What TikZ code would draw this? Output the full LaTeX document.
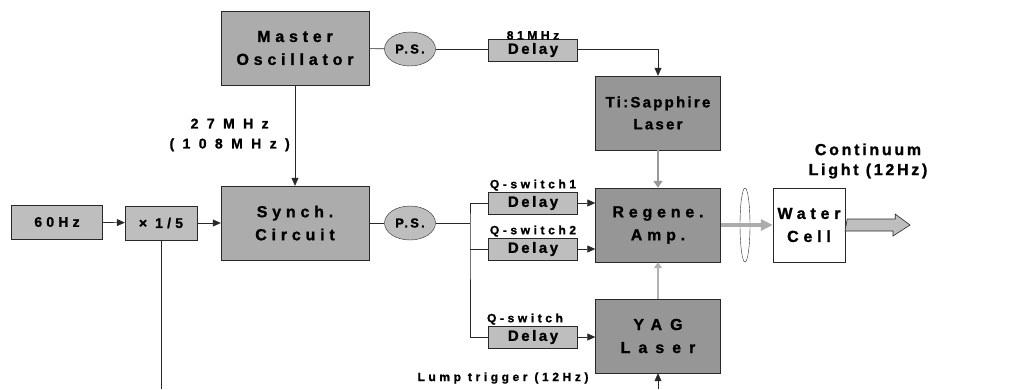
\documentclass[tikz,border=0pt]{standalone}
\usepackage{fontspec}
\setmainfont{Liberation Sans}
\newfontfamily\spcfont[LetterSpace=30,FakeBold=1.2]{Liberation Sans Bold}
\newfontfamily\widefont[LetterSpace=50,FakeBold=1.2]{Liberation Sans Bold}
\newfontfamily\tightfont[LetterSpace=15,FakeBold=1.2]{Liberation Sans Bold}
\newfontfamily\freqfont[LetterSpace=60,FakeBold=1.2]{Liberation Sans Bold}
\newfontfamily\lightfont[LetterSpace=17,FakeBold=1.2]{Liberation Sans Bold}
\usepackage{tikz}
\usetikzlibrary{arrows.meta,positioning,calc,shapes.geometric}
\definecolor{myline}{RGB}{40,40,40}
\definecolor{myfill}{RGB}{150,150,150}
\definecolor{myfilllight}{RGB}{190,190,190}
\definecolor{myfillmid}{RGB}{172,172,172}
\tikzset{
  unit/.style={rectangle,draw=myline,fill=myfill,align=center,inner sep=0pt,
    minimum width=125pt,minimum height=74pt,font=\spcfont\fontsize{16}{23}\selectfont},
  ctrl/.style={unit,fill=myfillmid,minimum width=148pt},
  small/.style={rectangle,draw=myline,fill=myfilllight,align=center,inner sep=0pt,
    minimum height=34pt,font=\spcfont\fontsize{14}{16}\selectfont},
  dly/.style={small,minimum width=89pt,minimum height=22pt,
    font=\lightfont\fontsize{15}{16}\selectfont},
  ps/.style={ellipse,draw=myline,fill=myfilllight,inner sep=0pt,minimum width=51pt,
    minimum height=34pt,font=\lightfont\fontsize{13}{15}\selectfont},
  cell/.style={unit,fill=white},
  lens/.style={ellipse,draw=myline,inner sep=0pt,minimum width=10pt,minimum height=74pt},
  lbl/.style={font=\spcfont\fontsize{12}{14}\selectfont,inner sep=0pt},
  biglbl/.style={font=\lightfont\fontsize{16}{20}\selectfont,align=center,inner sep=0pt},
  sig/.style={-{Triangle[length=8pt,width=7pt]},draw=myline,line width=0.6pt},
  wire/.style={draw=myline,line width=0.6pt},
  beam/.style={-{Triangle[length=7pt,width=9pt]},draw=gray!80,line width=2.5pt},
  pump/.style={-{Triangle[length=6pt,width=8pt]},draw=gray!60,line width=1.6pt},
  hot/.style={-{Triangle[length=12pt,width=11pt]},draw=gray!65,line width=4pt},
}
\begin{document}
\begin{tikzpicture}[x=1pt,y=-1pt]
\useasboundingbox (0,0) rectangle (1017,389);
% timing side
\node[ctrl] (mo) at (295,48) {Master\\Oscillator};
\node[ctrl] (sync) at (295,223) {Synch.\\Circuit};
\node[small,minimum width=91pt] (line) at (57,222) {60Hz};
\node[small,minimum width=72pt] (div) at (161,223) {× 1/5};
\node[ps] (ps1) at (410,49) {P.S.};
\node[ps] (ps2) at (410,223) {P.S.};
\node[biglbl,font=\freqfont\fontsize{14}{20}\selectfont,anchor=east] (frq) at (290,135) {27MHz\\(108MHz)};
% delays
\node[dly] (dly0) at (533,50) {Delay};
\node[dly] (dly1) at (533,203) {Delay};
\node[dly] (dly2) at (533,249) {Delay};
\node[dly] (dly3) at (533,337) {Delay};
\node[lbl,above=-1pt of dly0] (l0) {81MHz};
\node[lbl,above=1pt of dly1] (l1) {Q-switch1};
\node[lbl,above=1pt of dly2] (l2) {Q-switch2};
\node[lbl,above=1pt of dly3,xshift=-8pt] (l3) {Q-switch};
% lasers
\node[unit,font=\tightfont\fontsize{15}{22}\selectfont] (ti) at (658,113) {Ti:Sapphire\\Laser};
\node[unit] (amp) at (658,225) {Regene.\\Amp.};
\node[unit,font=\widefont\fontsize{16}{23}\selectfont] (yag) at (658,336) {YAG\\Laser};
\node[lens] (lns) at (745,225) {};
\node[cell,minimum width=72pt] (wc) at (809,225) {Water\\Cell};
\node[biglbl] (cont) at (868,161) {Continuum\\Light (12Hz)};
\node[lbl] (lmp) at (503,378) {Lump trigger (12Hz)};
\coordinate (bot1) at (161,389);
\coordinate (bot2) at (658,389);
\coordinate (br) at (470,223);
\coordinate (out) at (910,225);

\draw[sig] (line) -- (div);
\draw[sig] (div) -- (sync);
\draw[sig] (mo) -- (sync);
\draw[wire] (mo) -- (ps1);
\draw[wire] (ps1) -- (ps1 -| dly0.west);
\draw[sig] (dly0.east |- ps1) -| (ti.north);
\draw[wire] (sync) -- (ps2);
\draw[wire] (ps2) -- (br);
\draw[wire] (dly1.west) -| (br) |- (dly3.west);
\draw[wire] (br |- dly2) -- (dly2.west);
\draw[sig] (dly1.east) -- (amp.west |- dly1);
\draw[sig] (dly2.east) -- (amp.west |- dly2);
\draw[sig] (dly3.east) -- (yag.west |- dly3);
\draw[wire] (div) -- (bot1);
\draw[sig] (bot2) -- (yag);
\draw[beam] (ti) -- (amp);
\draw[pump] (yag) -- (amp);
\draw[hot] (amp) -- (wc);
% output beam
\draw[myline,fill=myfilllight,line width=0.6pt]
  (wc.east) ++(2,-6) -- ++(48,0) -- ++(0,-5) -- (out) -- ++(-17,11) -- ++(0,-5) -- ++(-48,0) -- cycle;
\end{tikzpicture}
\end{document}
